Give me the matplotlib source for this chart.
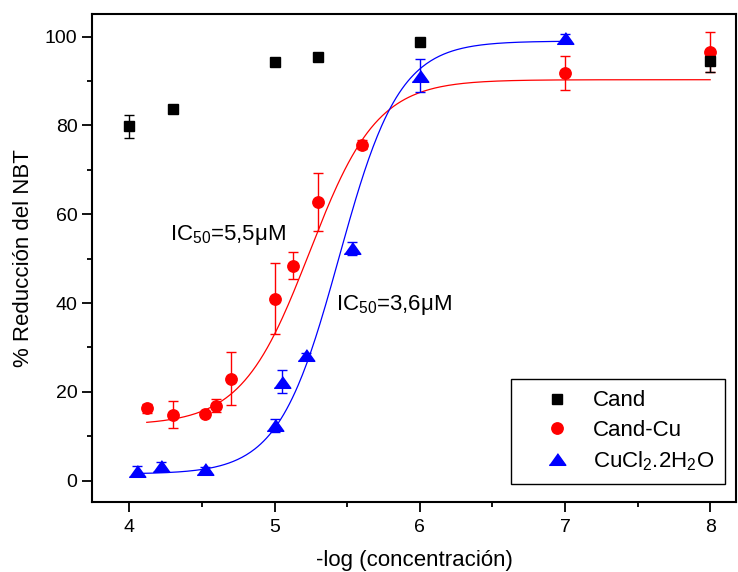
import numpy as np
import matplotlib
matplotlib.use('Agg')
from matplotlib import pyplot as plt
from matplotlib.ticker import MultipleLocator

plt.rcParams['font.family'] = ['Liberation Sans', 'DejaVu Sans']
plt.rcParams['mathtext.fontset'] = 'custom'
plt.rcParams['mathtext.rm'] = 'Liberation Sans'
plt.rcParams['mathtext.it'] = 'Liberation Sans'
plt.rcParams['mathtext.default'] = 'regular'

# Cand
cand_x = [4.0, 4.3, 5.0, 5.3, 6.0, 8.0]
cand_y = [79.8, 83.7, 94.3, 95.4, 98.8, 94.5]
cand_err = [2.6, 0, 0, 0, 0, 2.4]

# Cand-Cu
cu_x = [4.12, 4.3, 4.52, 4.6, 4.7, 5.0, 5.13, 5.3, 5.6, 7.0, 8.0]
cu_y = [16.3, 14.9, 15.0, 16.9, 23.0, 41.0, 48.4, 62.7, 75.7, 91.8, 96.6]
cu_err = [1.0, 3.0, 0.5, 1.5, 6.0, 8.0, 3.0, 6.5, 1.0, 3.8, 4.5]

# CuCl2.2H2O
cl_x = [4.05, 4.22, 4.52, 5.0, 5.05, 5.22, 5.53, 6.0, 7.0]
cl_y = [2.2, 3.2, 2.6, 12.5, 22.3, 28.2, 52.3, 91.2, 99.6]
cl_err = [1.0, 1.0, 0.5, 1.5, 2.6, 0.5, 1.5, 3.7, 1.0]

# logistic fit parameters (bottom, top, log x0, slope) and x range
cu_fit = (12.5, 90.3, 5.24, 1.86)
cu_fit_range = (4.12, 8.0)
cl_fit = (1.5, 99.0, 5.444, 2.09)
cl_fit_range = (4.03, 7.0)

# wide, flat triangle like the original
tri = [(-1, -0.7), (1, -0.7), (0, 0.7)]


def logistic(x, bottom, top, x0, p):
    return bottom + (top - bottom) / (1 + 10 ** ((x0 - x) * p))


fig = plt.figure(figsize=(7.38, 5.72), dpi=100)
ax = fig.add_axes([0.1247, 0.1224, 0.873, 0.8531])

xs = np.linspace(*cu_fit_range, 300)
ax.plot(xs, logistic(xs, *cu_fit), color='red', lw=0.9, zorder=2)
xs = np.linspace(*cl_fit_range, 300)
ax.plot(xs, logistic(xs, *cl_fit), color='blue', lw=0.9, zorder=2)

eb = dict(linestyle='', capsize=3.6, elinewidth=1.0, capthick=1.0, zorder=3)
ax.errorbar(cl_x, cl_y, yerr=cl_err, fmt='none', ecolor='blue', **eb)
ax.plot(cl_x, cl_y, ls='', marker=tri, color='blue', ms=12, zorder=4,
        label='CuCl$_2$.2H$_2$O')
ax.errorbar(cu_x, cu_y, yerr=cu_err, fmt='o', color='red', ms=8.2,
            label='Cand-Cu', **eb)
ax.errorbar(cand_x, cand_y, yerr=cand_err, fmt='s', color='black', ms=7.2,
            label='Cand', **eb)

ax.set_xlim(3.743, 8.18)
ax.set_ylim(-4.8, 105.1)
ax.xaxis.set_major_locator(MultipleLocator(1))
ax.xaxis.set_minor_locator(MultipleLocator(0.5))
ax.yaxis.set_major_locator(MultipleLocator(20))
ax.yaxis.set_minor_locator(MultipleLocator(10))
ax.tick_params(which='major', direction='out', length=7, width=1.3, labelsize=14)
ax.tick_params(which='minor', direction='out', length=3.8, width=1.3)
ax.tick_params(axis='x', which='major', pad=5.5)
ax.tick_params(top=False, right=False)
for s in ax.spines.values():
    s.set_linewidth(1.5)

ax.set_xlabel('-log (concentración)', fontsize=16, labelpad=10)
ax.set_ylabel('% Reducción del NBT', fontsize=16, labelpad=8)

ax.text(4.28, 55.3, 'IC$_{50}$=5,5μM', fontsize=16, ha='left', va='center')
ax.text(5.42, 39.6, 'IC$_{50}$=3,6μM', fontsize=16, ha='left', va='center')

handles, labels = ax.get_legend_handles_labels()
handles = [h[0] if isinstance(h, tuple) else h for h in handles]
order = [2, 1, 0]
leg = ax.legend([handles[i] for i in order], [labels[i] for i in order],
                loc='lower right', bbox_to_anchor=(0.983, 0.037), fontsize=16,
                fancybox=False, edgecolor='black', framealpha=1,
                borderpad=0.5, labelspacing=0.38, handletextpad=0.0,
                borderaxespad=0, handlelength=3.2)
leg.get_frame().set_linewidth(1.0)

fig.savefig('out.png', dpi=100)
